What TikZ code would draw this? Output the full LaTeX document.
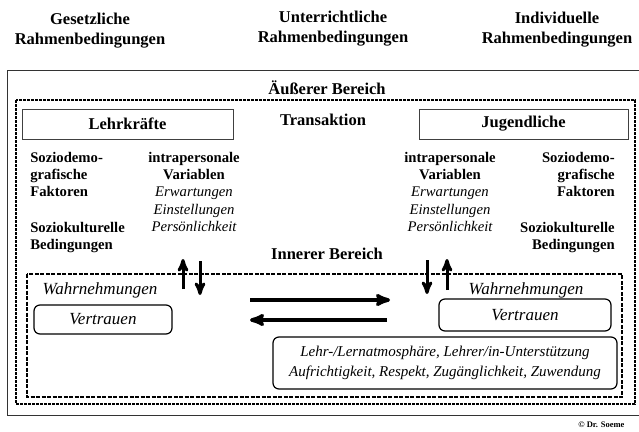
\documentclass[tikz,border=0pt]{standalone}
\usepackage{fontspec}
\setmainfont{Liberation Serif}
\usetikzlibrary{arrows,positioning}

\begin{document}
\begin{tikzpicture}[x=1pt,y=-1pt,>=stealth',semithick]
  \tikzstyle{head}=[font=\fontsize{16.5}{20}\selectfont\bfseries,align=center,inner sep=0pt]
  \tikzstyle{title}=[font=\fontsize{16.5}{19}\selectfont\bfseries,inner sep=0pt]
  \tikzstyle{var}=[font=\fontsize{14.7}{17.4}\selectfont\bfseries,inner sep=0pt]
  \tikzstyle{soft}=[font=\fontsize{17}{19}\selectfont\itshape,inner sep=0pt]
  \tikzstyle{actor}=[draw=black!75,line width=0.8pt,minimum height=30pt,title]
  \tikzstyle{pill}=[draw,line width=1.2pt,rounded corners=6pt,soft,align=center]
  \tikzstyle{zone}=[line width=1.6pt,dash pattern=on 3pt off 1pt]
  \tikzstyle{flow}=[->,line width=3pt]

  \useasboundingbox (0,0) rectangle (639,431);

  \node[head] (gesetz)     at (90,31)  {Gesetzliche\\Rahmenbedingungen};
  \node[head] (unterricht) at (333,28.5) {Unterrichtliche\\Rahmenbedingungen};
  \node[head] (individ)    at (557,30) {Individuelle\\Rahmenbedingungen};

  \draw[black!80,line width=0.9pt] (639,70) -- (7.5,70) -- (7.5,415) -- (639,415);
  \node[title] (aussen) at (327,88) {Äußerer Bereich};
  \draw[zone] (16,100) rectangle (635,404);

  \node[actor,minimum width=211pt] (lehrer) at (127.5,124) {Lehrkräfte};
  \node[actor,minimum width=209pt] (jugend) at (523.5,124) {Jugendliche};
  \node[title] (transakt) at (323,120) {Transaktion};

  \node[var,anchor=north west,align=left]   (lsozio)  at (30,151.5)  {Soziodemo-\\grafische\\Faktoren};
  \node[var,anchor=north west,align=left]   (lkultur) at (30,221.5)  {Soziokulturelle\\Bedingungen};
  \node[var,anchor=north,align=center]      (lintra)  at (194,151.5) {intrapersonale\\Variablen\\
    \normalfont\itshape Erwartungen\\\normalfont\itshape Einstellungen\\\normalfont\itshape Persönlichkeit};
  \node[var,anchor=north,align=center]      (rintra)  at (450,151.5) {intrapersonale\\Variablen\\
    \normalfont\itshape Erwartungen\\\normalfont\itshape Einstellungen\\\normalfont\itshape Persönlichkeit};
  \node[var,anchor=north east,align=right]  (rsozio)  at (615,151.5) {Soziodemo-\\grafische\\Faktoren};
  \node[var,anchor=north east,align=right]  (rkultur) at (615,221.5) {Soziokulturelle\\Bedingungen};

  \node[title] (innen) at (327,254) {Innerer Bereich};
  \draw[zone,line width=1.3pt,dash pattern=on 4pt off 1.5pt] (27,274) rectangle (622,397);

  \node[soft] (lwahr) at (100,290) {Wahrnehmungen};
  \node[pill,minimum width=138pt,minimum height=29pt] (lvert) at (103,319.5) {Vertrauen};
  \node[soft] (rwahr) at (526,290) {Wahrnehmungen};
  \node[pill,minimum width=172pt,minimum height=32pt] (rvert) at (525,315) {Vertrauen};
  \node[pill,font=\fontsize{15}{19.5}\selectfont\itshape,minimum width=344pt,minimum height=52pt] (klima) at (445,363)
    {Lehr-/Lernatmosphäre, Lehrer/in-Unterstützung\\Aufrichtigkeit, Respekt, Zugänglichkeit, Zuwendung};

  \coordinate (lup0) at (183,289);   \coordinate (lup1) at (183,259);
  \coordinate (ldn0) at (200,261);   \coordinate (ldn1) at (200,295);
  \coordinate (rdn0) at (427,260);   \coordinate (rdn1) at (427,294);
  \coordinate (rup0) at (447,290);   \coordinate (rup1) at (447,259);
  \coordinate (hin0) at (250,300);   \coordinate (hin1) at (390,300);
  \coordinate (her0) at (387,320);   \coordinate (her1) at (250,320);

  \draw[flow] (lup0) -- (lup1);
  \draw[flow] (ldn0) -- (ldn1);
  \draw[flow] (rdn0) -- (rdn1);
  \draw[flow] (rup0) -- (rup1);
  \draw[flow,line width=3.5pt] (hin0) -- (hin1);
  \draw[flow,line width=3.5pt] (her0) -- (her1);

  \node[font=\fontsize{8.5}{10}\selectfont\bfseries,anchor=west,inner sep=0pt] (copy) at (578,425) {© Dr. Soeme};
\end{tikzpicture}
\end{document}
